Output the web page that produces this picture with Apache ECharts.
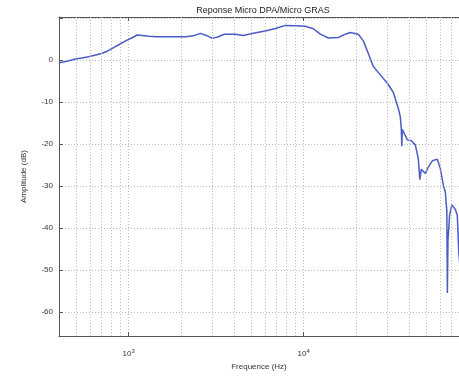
<!DOCTYPE html>
<html>
<head>
<meta charset="utf-8">
<script src="https://cdn.jsdelivr.net/npm/echarts@6/dist/echarts.min.js"></script>
<style>
html,body{margin:0;padding:0;background:#fff;}
#c{width:459px;height:376px;}
</style>
</head>
<body>
<div id="c"></div>
<script>
var titleText = 'Reponse Micro DPA/Micro GRAS';
var xName = 'Frequence (Hz)';
var yName = 'Amplitude (dB)';

var freqHz = [402, 450, 496, 540, 590, 640, 700, 760, 820, 890, 960, 1040, 1120, 1200, 1300, 1450, 1620, 1850, 2110, 2340, 2570, 2780, 3010, 3255, 3520, 4070, 4520, 5160, 6120, 6980, 7860, 8970, 10220, 11360, 12460, 13840, 15790, 17310, 18490, 20540, 21940, 23430, 25020, 27440, 30480, 32560, 34760, 35690, 36160, 36400, 36630, 37620, 39140, 41250, 43480, 45230, 46130, 47050, 49590, 51590, 54380, 58070, 60400, 62850, 64530, 65820, 66300, 66800, 68240, 70290, 73600, 75560, 77070, 78600];
var ampDb = [-0.6, -0.2, 0.3, 0.5, 0.8, 1.2, 1.6, 2.2, 3.0, 3.8, 4.6, 5.3, 6.0, 5.9, 5.7, 5.6, 5.6, 5.6, 5.6, 5.8, 6.4, 5.9, 5.2, 5.6, 6.2, 6.2, 5.9, 6.4, 7.0, 7.6, 8.3, 8.2, 8.1, 7.5, 6.2, 5.3, 5.4, 6.2, 6.6, 6.2, 4.6, 1.6, -1.5, -3.5, -5.8, -7.7, -11.5, -13.5, -16.5, -20.5, -16.5, -17.5, -19.0, -19.2, -20.2, -23.5, -28.5, -26.0, -27.0, -25.5, -24.0, -23.6, -25.8, -29.8, -31.5, -36.0, -55.5, -43.0, -37.0, -34.5, -35.6, -37.0, -46.0, -50.0];

var xMin = 400, xMax = 77250;
var yMin = -65.8, yMax = 10.3;
var minorGrid = [500, 600, 700, 800, 900, 2000, 3000, 4000, 5000, 6000, 7000, 8000, 9000, 20000, 30000, 40000, 50000, 60000, 70000];

var seriesData = freqHz.map(function (f, i) { return [f, ampDb[i]]; });

var chart = echarts.init(document.getElementById('c'), null, {renderer: 'canvas'});
var gridColor = '#b8b8b8';
var axisColor = '#555';
var font = 'Liberation Sans, Arial, sans-serif';

function logAxisBase(extra) {
  var o = {
    type: 'log', logBase: 10, min: xMin, max: xMax,
    axisLine: {show: true, onZero: false, lineStyle: {color: axisColor}},
    axisTick: {show: true, inside: true, length: 4, lineStyle: {color: axisColor}}
  };
  for (var k in extra) o[k] = extra[k];
  return o;
}

chart.setOption({
  animation: false,
  backgroundColor: '#ffffff',
  title: {
    text: titleText,
    left: 258, top: 1, textAlign: 'center',
    textStyle: {fontSize: 9, fontWeight: 'normal', color: '#222', fontFamily: font}
  },
  grid: {
    left: 59, right: 0, top: 17, bottom: 31,
    show: false
  },
  xAxis: [
    logAxisBase({
      position: 'bottom',
      name: xName, nameLocation: 'middle', nameGap: 24,
      nameTextStyle: {fontSize: 8, color: '#333', fontFamily: font},
      axisLabel: {
        showMinLabel: false, showMaxLabel: false, margin: 12,
        formatter: function (v) {
          var e = Math.round(Math.log(v) / Math.LN10);
          return '{b|10}{s|' + e + '}';
        },
        rich: {
          b: {fontSize: 8, color: '#333', fontFamily: font},
          s: {fontSize: 6, color: '#333', fontFamily: font, verticalAlign: 'top', padding: [0, 0, 6, 0]}
        }
      },
      splitLine: {show: true, lineStyle: {color: gridColor, type: [1, 2], width: 1}}
    }),
    logAxisBase({
      position: 'top',
      axisLabel: {show: false},
      splitLine: {show: false}
    })
  ],
  yAxis: {
    type: 'value', min: yMin, max: yMax, splitNumber: 8,
    name: yName, nameLocation: 'middle', nameGap: 31, nameRotate: 90,
    nameTextStyle: {fontSize: 8, color: '#333', fontFamily: font},
    axisLine: {show: true, onZero: false, lineStyle: {color: axisColor}},
    axisTick: {show: true, inside: true, length: 4, lineStyle: {color: axisColor}},
    axisLabel: {
      showMinLabel: false, showMaxLabel: false, margin: 6,
      fontSize: 8, color: '#333', fontFamily: font,
      formatter: function (v) {
        if (v > 0.5) return '';
        return String(Math.round(v));
      }
    },
    splitLine: {show: true, lineStyle: {color: gridColor, type: [1, 2], width: 1}}
  },
  series: [{
    type: 'line',
    xAxisIndex: 0,
    data: seriesData,
    showSymbol: false,
    symbol: 'none',
    lineStyle: {color: '#4b5cc4', width: 1.5},
    clip: true,
    markLine: {
      silent: true,
      symbol: 'none',
      label: {show: false},
      lineStyle: {color: gridColor, type: [1, 2], width: 1},
      data: minorGrid.map(function (v) { return {xAxis: v}; })
    }
  }]
});
</script>
</body>
</html>
